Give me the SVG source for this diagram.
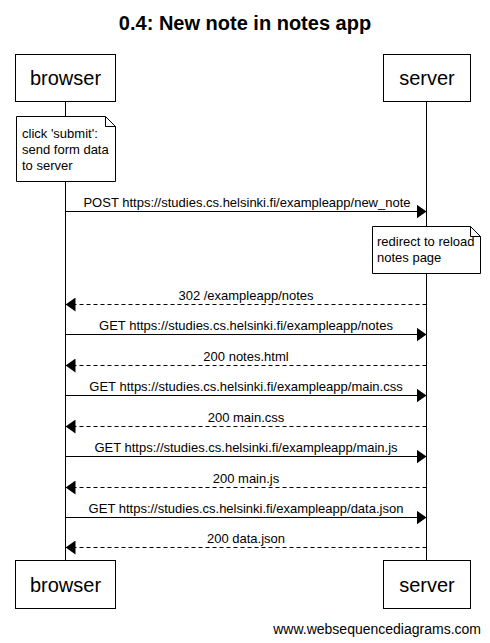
<svg xmlns="http://www.w3.org/2000/svg" width="490" height="643" viewBox="0 0 490 643">
<defs>
<style>
.t{font-family:"Liberation Sans",Arial,sans-serif;fill:#000}
.title{font-size:20px;font-weight:bold;text-anchor:middle}
.p{font-size:20px;text-anchor:middle}
.m{font-size:13px;text-anchor:middle}
.n{font-size:13px}
.box{fill:#fff;stroke:#000;stroke-width:1}
.life{stroke:#000;stroke-width:1}
.msg{stroke:#000;stroke-width:1;fill:none}
.dash{stroke-dasharray:4,3}
</style>
<marker id="ah" viewBox="0 0 10 14" refX="10" refY="7" markerWidth="10" markerHeight="14" markerUnits="userSpaceOnUse" orient="auto">
<path d="M0,0 L10,7 L0,14 Z" fill="#000"/>
</marker>
</defs>
<rect width="490" height="643" fill="#fff"/>
<text class="t title" x="245" y="30">0.4: New note in notes app</text>
<g id="lifelines">
<line class="life" x1="65.5" y1="101" x2="65.5" y2="560"/>
<line class="life" x1="426.5" y1="101" x2="426.5" y2="560"/>
</g>
<g id="browser">
<rect class="box" x="15.5" y="54.5" width="100" height="47"/>
<text class="t p" x="65.5" y="85">browser</text>
</g>
<g id="server">
<rect class="box" x="383.5" y="54.5" width="87" height="47"/>
<text class="t p" x="427" y="85">server</text>
</g>
<g id="browser-bottom">
<rect class="box" x="15.5" y="560.5" width="100" height="48"/>
<text class="t p" x="65.5" y="592">browser</text>
</g>
<g id="server-bottom">
<rect class="box" x="383.5" y="560.5" width="87" height="48"/>
<text class="t p" x="427" y="592">server</text>
</g>
<g id="note1">
<path class="box" d="M16.5,116.5 H105.5 L115.5,126.5 V181.5 H16.5 Z"/>
<path class="msg" d="M105.5,116.5 V126.5 H115.5"/>
<text class="t n" x="22" y="138">click 'submit':</text>
<text class="t n" x="22" y="154">send form data</text>
<text class="t n" x="22" y="170">to server</text>
</g>
<g id="note2">
<path class="box" d="M372.5,226.5 H470.5 L480.5,236.5 V273.5 H372.5 Z"/>
<path class="msg" d="M470.5,226.5 V236.5 H480.5"/>
<text class="t n" x="377" y="246">redirect to reload</text>
<text class="t n" x="377" y="262">notes page</text>
</g>
<g id="connectors">
<line class="msg" x1="65.5" y1="211.5" x2="426.5" y2="211.5" marker-end="url(#ah)"/>
<text class="t m" x="247" y="207">POST https://studies.cs.helsinki.fi/exampleapp/new_note</text>
<line class="msg dash" x1="426.5" y1="304.5" x2="65.5" y2="304.5" marker-end="url(#ah)"/>
<text class="t m" x="246" y="300">302 /exampleapp/notes</text>
<line class="msg" x1="65.5" y1="334.5" x2="426.5" y2="334.5" marker-end="url(#ah)"/>
<text class="t m" x="246" y="330">GET https://studies.cs.helsinki.fi/exampleapp/notes</text>
<line class="msg dash" x1="426.5" y1="365.5" x2="65.5" y2="365.5" marker-end="url(#ah)"/>
<text class="t m" x="246" y="361">200 notes.html</text>
<line class="msg" x1="65.5" y1="395.5" x2="426.5" y2="395.5" marker-end="url(#ah)"/>
<text class="t m" x="246" y="391">GET https://studies.cs.helsinki.fi/exampleapp/main.css</text>
<line class="msg dash" x1="426.5" y1="426.5" x2="65.5" y2="426.5" marker-end="url(#ah)"/>
<text class="t m" x="246" y="422">200 main.css</text>
<line class="msg" x1="65.5" y1="456.5" x2="426.5" y2="456.5" marker-end="url(#ah)"/>
<text class="t m" x="246" y="452">GET https://studies.cs.helsinki.fi/exampleapp/main.js</text>
<line class="msg dash" x1="426.5" y1="487.5" x2="65.5" y2="487.5" marker-end="url(#ah)"/>
<text class="t m" x="246" y="483">200 main.js</text>
<line class="msg" x1="65.5" y1="517.5" x2="426.5" y2="517.5" marker-end="url(#ah)"/>
<text class="t m" x="246" y="513">GET https://studies.cs.helsinki.fi/exampleapp/data.json</text>
<line class="msg dash" x1="426.5" y1="547.5" x2="65.5" y2="547.5" marker-end="url(#ah)"/>
<text class="t m" x="246" y="543">200 data.json</text>
</g>
<text class="t" x="481" y="634" font-size="14" text-anchor="end">www.websequencediagrams.com</text>
</svg>
